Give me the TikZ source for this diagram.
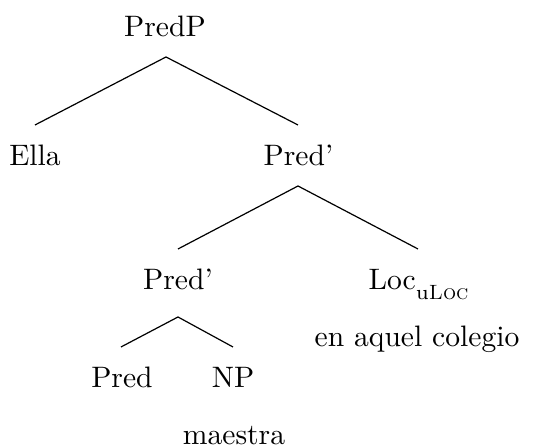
\documentclass[tikz,border=0pt]{standalone}
\begin{document}
\begin{tikzpicture}[x=0.348pt,y=-0.348pt,
  lbl/.style={anchor=base,inner sep=0pt,outer sep=0pt,font=\fontsize{10.3}{12.4}\selectfont},
  br/.style={line width=0.42pt,black}]
\useasboundingbox (0,0) rectangle (548,448);
% labels
\node[lbl] (predp) at (165,37) {PredP};
\node[lbl] (ella) at (35,166) {Ella};
\node[lbl] (predbar1) at (298.5,166) {Pred'};
\node[lbl] (predbar2) at (178,290) {Pred'};
\node[lbl] (loc) at (418.5,290) {Loc\raisebox{-3.2pt}{\fontsize{7.2}{8.6}\selectfont u\textsc{Loc}}};
\node[lbl] (aquel) at (417,347) {en aquel colegio};
\node[lbl] (pred) at (122,388) {Pred};
\node[lbl] (np) at (233,388) {NP};
\node[lbl] (maestra) at (234,445) {maestra};
% branch points
\coordinate (t1) at (166,57);
\coordinate (e1l) at (35,125);
\coordinate (e1r) at (298,125);
\coordinate (t2) at (298,186);
\coordinate (e2l) at (178,249);
\coordinate (e2r) at (418,249);
\coordinate (t3) at (178,317);
\coordinate (e3l) at (121,347);
\coordinate (e3r) at (233,347);
\draw[br] (e1l) -- (t1) -- (e1r);
\draw[br] (e2l) -- (t2) -- (e2r);
\draw[br] (e3l) -- (t3) -- (e3r);
\end{tikzpicture}
\end{document}
